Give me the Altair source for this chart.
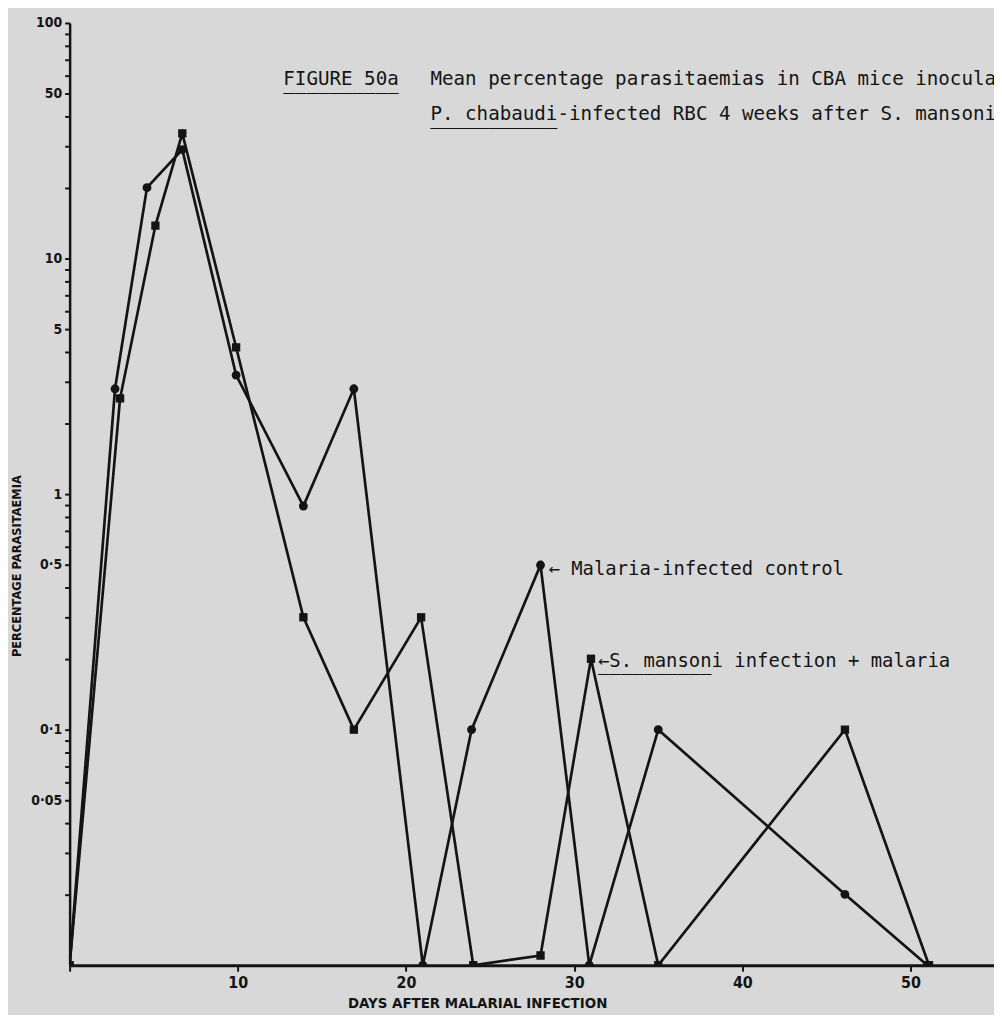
import altair as alt
import pandas as pd

# ---- data ----
days_control = [0, 2.7, 4.6, 6.7, 9.9, 13.9, 16.9, 21, 23.9, 28, 30.9, 35, 46.1, 51]
pct_control = [0.01, 2.8, 20, 29, 3.2, 0.89, 2.8, 0.01, 0.1, 0.5, 0.01, 0.1, 0.02, 0.01]

days_mansoni = [0, 3.0, 5.1, 6.7, 9.9, 13.9, 16.9, 20.9, 24, 28, 31, 35, 46.1, 51.1]
pct_mansoni = [0.01, 2.55, 13.8, 34, 4.2, 0.3, 0.1, 0.3, 0.01, 0.011, 0.2, 0.01, 0.1, 0.01]

series_names = ["Malaria-infected control", "S. mansoni infection + malaria"]

y_tick_all = [0.02, 0.03, 0.04, 0.05, 0.06, 0.07, 0.08, 0.09,
              0.1, 0.2, 0.3, 0.4, 0.5, 0.6, 0.7, 0.8, 0.9,
              1, 2, 3, 4, 5, 6, 7, 8, 9,
              10, 20, 30, 40, 50, 60, 70, 80, 90, 100]
y_label_values = [0.05, 0.1, 0.5, 1, 5, 10, 50, 100]
y_label_texts = ["0·05", "0·1", "0·5", "1", "5", "10", "50", "100"]

x_tick_values = [0, 10, 20, 30, 40, 50]
x_label_values = [10, 20, 30, 40, 50]

title_fig = "FIGURE 50a"
title_line1 = "Mean percentage parasitaemias in CBA mice inoculated with"
title_line2 = "P. chabaudi-infected RBC 4 weeks after S. mansoni infection"
y_title = "PERCENTAGE PARASITAEMIA"
x_title = "DAYS AFTER MALARIAL INFECTION"

# ---- build tables ----
rows = []
for i, (d, v) in enumerate(zip(days_control, pct_control)):
    rows.append({"day": d, "pct": v, "series": series_names[0], "idx": i})
for i, (d, v) in enumerate(zip(days_mansoni, pct_mansoni)):
    rows.append({"day": d, "pct": v, "series": series_names[1], "idx": i})
df = pd.DataFrame(rows)
df_c = df[df.series == series_names[0]]
df_s = df[df.series == series_names[1]]

# label expressions
y_expr = "''"
for v, t in zip(reversed(y_label_values), reversed(y_label_texts)):
    y_expr = f"datum.value == {v} ? '{t}' : ({y_expr})"
x_expr = "''"
for v in reversed(x_label_values):
    x_expr = f"datum.value == {v} ? '{v}' : ({x_expr})"

INK = "#141414"
BG = "#d8d8d8"
MONO = "DejaVu Sans Mono"
NARROW = "'Liberation Sans Narrow', 'DejaVu Sans Condensed', 'DejaVu Sans', sans-serif"
FS_T = 19.3
NB = "\u00a0"

W, H = 930, 948
X_MAX = W / 16.92

x_enc = alt.X(
    "day:Q",
    scale=alt.Scale(domain=[0, X_MAX], nice=False, zero=False),
    axis=alt.Axis(
        values=x_tick_values, labelExpr=x_expr, title=x_title,
        grid=False, domainColor=INK, domainWidth=3, tickColor=INK, tickWidth=2,
        tickSize=6, labelFont=NARROW, labelFontWeight="bold", labelFontSize=16,
        labelColor=INK, labelPadding=3, titleFont=NARROW, titleFontWeight="bold",
        titleFontSize=15, titleColor=INK, titleX=410, titleY=38,
        titleAlign="center", titleBaseline="middle", labelOverlap=False,
    ),
)
y_enc = alt.Y(
    "pct:Q",
    scale=alt.Scale(type="log", domain=[0.01, 100], nice=False),
    axis=alt.Axis(
        values=y_tick_all, labelExpr=y_expr, title=y_title,
        grid=False, domainColor=INK, domainWidth=2.5, tickColor=INK, tickWidth=2,
        tickSize=5, labelFont=NARROW, labelFontWeight="bold", labelFontSize=14,
        labelColor=INK, labelPadding=3, labelOverlap=False, labelBound=False,
        titleFont="DejaVu Sans", titleFontWeight="bold", titleFontSize=11.5,
        titleColor=INK, titleX=-52, titleY=546, titleAngle=270,
        titleAlign="center", titleBaseline="middle",
    ),
)

lines = alt.Chart(df).mark_line(color=INK, strokeWidth=2.7, clip=True).encode(
    x=x_enc, y=y_enc, detail="series:N", order="idx:Q"
)
circles = alt.Chart(df_c).mark_point(
    shape="circle", filled=True, size=80, color=INK, opacity=1, clip=True
).encode(x="day:Q", y="pct:Q")
squares = alt.Chart(df_s).mark_point(
    shape="square", filled=True, size=70, color=INK, opacity=1, clip=True
).encode(x="day:Q", y="pct:Q")

# series labels anchored at data points
lab_c = pd.DataFrame({"day": [days_control[9]], "pct": [pct_control[9]],
                      "t": ["\u2190" + NB + series_names[0]]})
lab_s = pd.DataFrame({"day": [days_mansoni[10]], "pct": [pct_mansoni[10]],
                      "t": ["\u2190" + series_names[1]],
                      "u": [NB + "_" * len("S. mansoni")]})
label_c = alt.Chart(lab_c).mark_text(
    align="left", baseline="middle", font=MONO, fontSize=19, color=INK, dx=8, dy=4
).encode(x="day:Q", y="pct:Q", text="t:N")
label_s = alt.Chart(lab_s).mark_text(
    align="left", baseline="middle", font=MONO, fontSize=19, color=INK, dx=7, dy=2
).encode(x="day:Q", y="pct:Q", text="t:N")
under_s = alt.Chart(lab_s).mark_text(
    align="left", baseline="middle", font=MONO, fontSize=19, color=INK, dx=7, dy=5
).encode(x="day:Q", y="pct:Q", text="u:N")

# title block
tdf = pd.DataFrame({
    "t": [title_fig, "_" * len(title_fig), title_line1, title_line2,
          "_" * len("P. chabaudi"),
          NB * len("P. chabaudi-infected RBC 4 weeks after ") + "_" * len("S. mansoni")],
    "px": [215, 215, 363, 363, 363, 363],
    "py": [56, 60, 56, 92, 96, 96],
})
title_txt = alt.Chart(tdf).mark_text(
    align="left", baseline="middle", font=MONO, fontSize=FS_T, color=INK, clip=True
).encode(x=alt.X("px:Q", scale=None), y=alt.Y("py:Q", scale=None), text="t:N")

chart = alt.layer(
    lines, circles, squares, label_c, label_s, under_s, title_txt
).properties(
    width=W, height=H,
    autosize=alt.AutoSizeParams(type="none"),
    padding={"left": 62, "top": 12, "right": 0, "bottom": 47},
    background=BG,
).configure_view(stroke=None)

chart.save("out.html", embed_options={"renderer": "svg", "actions": False})
